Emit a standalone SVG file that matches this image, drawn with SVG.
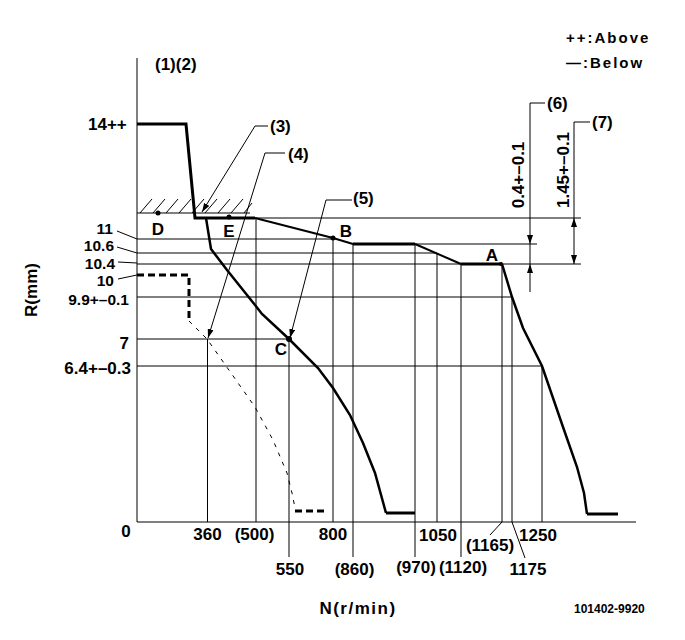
<svg xmlns="http://www.w3.org/2000/svg" width="685" height="640" viewBox="0 0 685 640">
<defs>
<style>
text{font-family:"Liberation Sans",Arial,sans-serif;font-weight:bold;fill:#000;font-size:17px}
.g{stroke:#000;stroke-width:1;fill:none}
.thick{stroke:#000;stroke-width:3;fill:none;stroke-linejoin:miter}
.med{stroke:#000;stroke-width:2;fill:none}
.dashT{stroke:#000;stroke-width:3;fill:none;stroke-dasharray:7 4}
.dashS{stroke:#000;stroke-width:1;fill:none;stroke-dasharray:4 6}
.lead{stroke:#000;stroke-width:1;fill:none}
.ldr{stroke:#000;stroke-width:1;fill:none;marker-end:url(#ah)}
.mid{text-anchor:middle}
.end{text-anchor:end}
.st{font-size:15.5px}
.sm{font-size:15px;letter-spacing:2px}
</style>
<marker id="ah" markerUnits="userSpaceOnUse" markerWidth="9" markerHeight="6" refX="9" refY="3" orient="auto">
<path d="M0,0 L9,3 L0,6 z" fill="#000"/>
</marker>
</defs>
<rect width="685" height="640" fill="#fff"/>

<g id="axes">
<line class="g" x1="137" y1="58" x2="137" y2="522"/>
<line class="g" x1="137" y1="522" x2="636" y2="522"/>
</g>

<g id="grid">
<line class="g" x1="137" y1="239" x2="333" y2="239"/>
<line class="g" x1="415" y1="244" x2="537" y2="244"/>
<line class="g" x1="137" y1="253" x2="437" y2="253"/>
<line class="g" x1="137" y1="264" x2="581" y2="264"/>
<line class="g" x1="137" y1="297" x2="512" y2="297"/>
<line class="g" x1="137" y1="339" x2="289" y2="339"/>
<line class="g" x1="137" y1="366" x2="542" y2="366"/>
<line class="g" x1="255" y1="218" x2="581" y2="218"/>
<line class="g" x1="207.5" y1="339" x2="207.5" y2="522"/>
<line class="g" x1="256" y1="218" x2="256" y2="522"/>
<line class="g" x1="289" y1="339" x2="289" y2="557"/>
<line class="g" x1="333" y1="238" x2="333" y2="522"/>
<line class="g" x1="353" y1="244" x2="353" y2="557"/>
<line class="g" x1="415" y1="244" x2="415" y2="557"/>
<line class="g" x1="437" y1="253" x2="437" y2="522"/>
<line class="g" x1="461" y1="264" x2="461" y2="557"/>
<line class="g" x1="502" y1="264" x2="502" y2="522"/>
<line class="g" x1="512" y1="297" x2="512" y2="522"/>
<line class="g" x1="542" y1="366" x2="542" y2="522"/>
<line class="g" x1="502" y1="522" x2="490" y2="535"/>
<line class="g" x1="512" y1="522" x2="525" y2="558"/>
</g>

<g id="hatch">
<line class="g" x1="137" y1="213" x2="250" y2="213"/>
<path class="g" d="M140,213 l12,-14 M153,213 l12,-14 M166,213 l12,-14 M179,213 l12,-14 M192,213 l12,-14 M205,213 l12,-14 M218,213 l12,-14 M231,213 l12,-14 M244,213 l8,-10"/>
</g>

<g id="curves">
<polyline class="thick" points="137,124 186,124 195,218 255,218"/>
<polyline class="med" points="255,218 333,238 353,244"/>
<line class="thick" x1="353" y1="244" x2="415" y2="244"/>
<polyline class="med" points="415,244 461,264"/>
<line class="thick" x1="461" y1="264" x2="502" y2="264"/>
<polyline class="med" points="502,264 512,297 523,328 542,366 563,427 577,467 584,493 587,514" style="stroke-width:2.5"/>
<line class="thick" x1="587" y1="514" x2="618" y2="514"/>
<polyline class="med" points="206,218 211,249 227,270 255,305 262,314 289,339 318,368 333,388 350,415 363,443 375,473 386,513" style="stroke-width:2.5"/>
<line class="thick" x1="386" y1="513" x2="415" y2="513"/>
<polyline class="dashT" points="137,275 189,275 189,320"/>
<polyline class="dashS" points="189,321 207,339 255,407 273,440 287,473 292,493 295,508"/>
<line class="dashT" x1="295" y1="511" x2="328" y2="511"/>
</g>

<g id="points">
<circle cx="158" cy="213" r="2.5"/>
<circle cx="229" cy="217" r="2.5"/>
<circle cx="333" cy="238" r="2.5"/>
<circle cx="289" cy="339" r="3"/>
<circle cx="501" cy="264" r="2"/>
</g>

<g id="connectors">
<polyline class="lead" points="268,126 255,126"/>
<line class="ldr" x1="255" y1="126" x2="202" y2="212"/>
<polyline class="lead" points="285,153 265,153"/>
<line class="ldr" x1="265" y1="153" x2="208" y2="338"/>
<polyline class="lead" points="352,200 326,200"/>
<line class="ldr" x1="326" y1="200" x2="290" y2="338"/>
<polyline class="lead" points="545,103 530,103 530,292"/>
<polygon points="527,235 533,235 530,244"/>
<polygon points="527,273 533,273 530,264"/>
<polyline class="lead" points="590,122 574,122 574,264"/>
<polygon points="571,227 577,227 574,218"/>
<polygon points="571,255 577,255 574,264"/>
<line class="g" x1="117" y1="231" x2="137" y2="239"/>
<line class="g" x1="117" y1="247" x2="137" y2="253"/>
<line class="g" x1="118" y1="262" x2="137" y2="263"/>
<line class="g" x1="118" y1="279" x2="137" y2="275"/>
</g>

<g id="labels">
<text x="155" y="70">(1)(2)</text>
<text x="88" y="130">14++</text>
<text class="end st" x="113" y="234">11</text>
<text class="end st" x="114" y="251">10.6</text>
<text class="end st" x="115" y="269">10.4</text>
<text class="end st" x="114" y="286">10</text>
<text class="end st" x="129" y="305">9.9+–0.1</text>
<text class="end" x="129" y="349">7</text>
<text class="end" x="131" y="374">6.4+–0.3</text>
<text class="mid" x="126" y="537">0</text>
<text class="mid" x="207.5" y="540">360</text>
<text class="mid" x="254.5" y="540">(500)</text>
<text class="mid" x="333" y="540">800</text>
<text class="mid" x="438" y="541">1050</text>
<text class="mid" x="538" y="541">1250</text>
<text class="mid" x="490" y="551">(1165)</text>
<text class="mid" x="290" y="575">550</text>
<text class="mid" x="354.5" y="575">(860)</text>
<text class="mid" x="416" y="573">(970)</text>
<text class="mid" x="463" y="573">(1120)</text>
<text class="mid" x="528" y="575">1175</text>
<text class="mid" x="158" y="235">D</text>
<text class="mid" x="229" y="237">E</text>
<text class="mid" x="346" y="237">B</text>
<text class="mid" x="492" y="261">A</text>
<text class="mid" x="281" y="355">C</text>
<text x="270" y="132">(3)</text>
<text x="288" y="160">(4)</text>
<text x="353" y="204">(5)</text>
<text x="547" y="109">(6)</text>
<text x="592" y="128">(7)</text>
<text class="mid" transform="translate(524,175) rotate(-90)">0.4+–0.1</text>
<text class="mid" transform="translate(569,170) rotate(-90)">1.45+–0.1</text>
<text class="mid" transform="translate(37,290) rotate(-90)">R(mm)</text>
<text class="mid" x="358" y="614" style="letter-spacing:1.5px">N(r/min)</text>
<text x="574" y="613" style="font-size:12px">101402-9920</text>
<text class="sm" x="566" y="43">++:Above</text>
<text class="sm" x="566" y="68">—:Below</text>
</g>
</svg>
